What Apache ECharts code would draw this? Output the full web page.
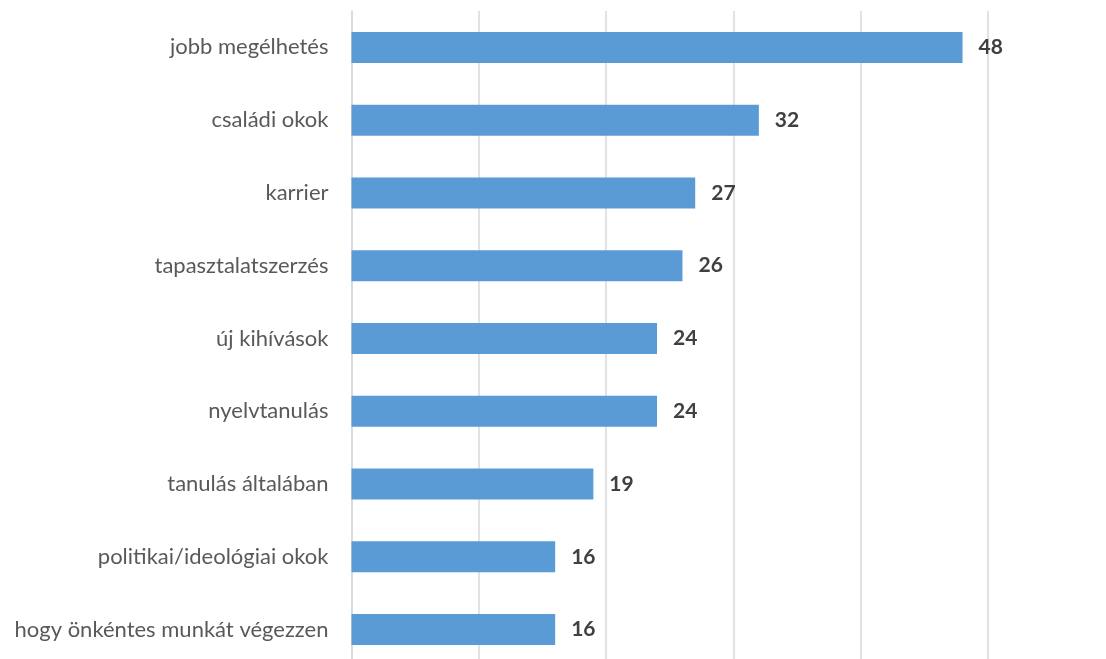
<!DOCTYPE html>
<html>
<head>
<meta charset="utf-8">
<script src="https://cdn.jsdelivr.net/npm/echarts@6/dist/echarts.min.js"></script>
<style>
  html, body { margin: 0; padding: 0; background: #fff; }
  #chart { width: 1106px; height: 659px; }
</style>
</head>
<body>
<div id="chart"></div>
<script>
const categories = [
  'jobb megélhetés',
  'családi okok',
  'karrier',
  'tapasztalatszerzés',
  'új kihívások',
  'nyelvtanulás',
  'tanulás általában',
  'politikai/ideológiai okok',
  'hogy önkéntes munkát végezzen'
]
const values = [48, 32, 27, 26, 24, 24, 19, 16, 16]

const chart = echarts.init(document.getElementById('chart'))

chart.setOption({
  animation: false,
  grid: {
    left: 351.5,
    top: 11,
    width: 636.5,
    height: 655,
    outerBoundsMode: 'none'
  },
  xAxis: {
    type: 'value',
    min: 0,
    max: 50,
    interval: 10,
    axisLabel: { show: false },
    axisTick: { show: false },
    axisLine: { show: false },
    splitLine: { lineStyle: { color: '#d9d9d9', width: 1.5 } }
  },
  yAxis: {
    type: 'category',
    inverse: true,
    data: categories,
    axisTick: { show: false },
    axisLine: { show: true, lineStyle: { color: '#d9d9d9', width: 1.5 } },
    axisLabel: {
      margin: 23,
      color: '#595959',
      fontFamily: 'Lato',
      fontSize: 22
    }
  },
  series: [{
    type: 'bar',
    data: values,
    barWidth: 31,
    itemStyle: { color: '#5b9bd5' },
    label: {
      show: true,
      position: 'right',
      distance: 16,
      color: '#404040',
      fontFamily: 'Lato',
      fontWeight: 'bold',
      fontSize: 21
    }
  }]
})
</script>
</body>
</html>
